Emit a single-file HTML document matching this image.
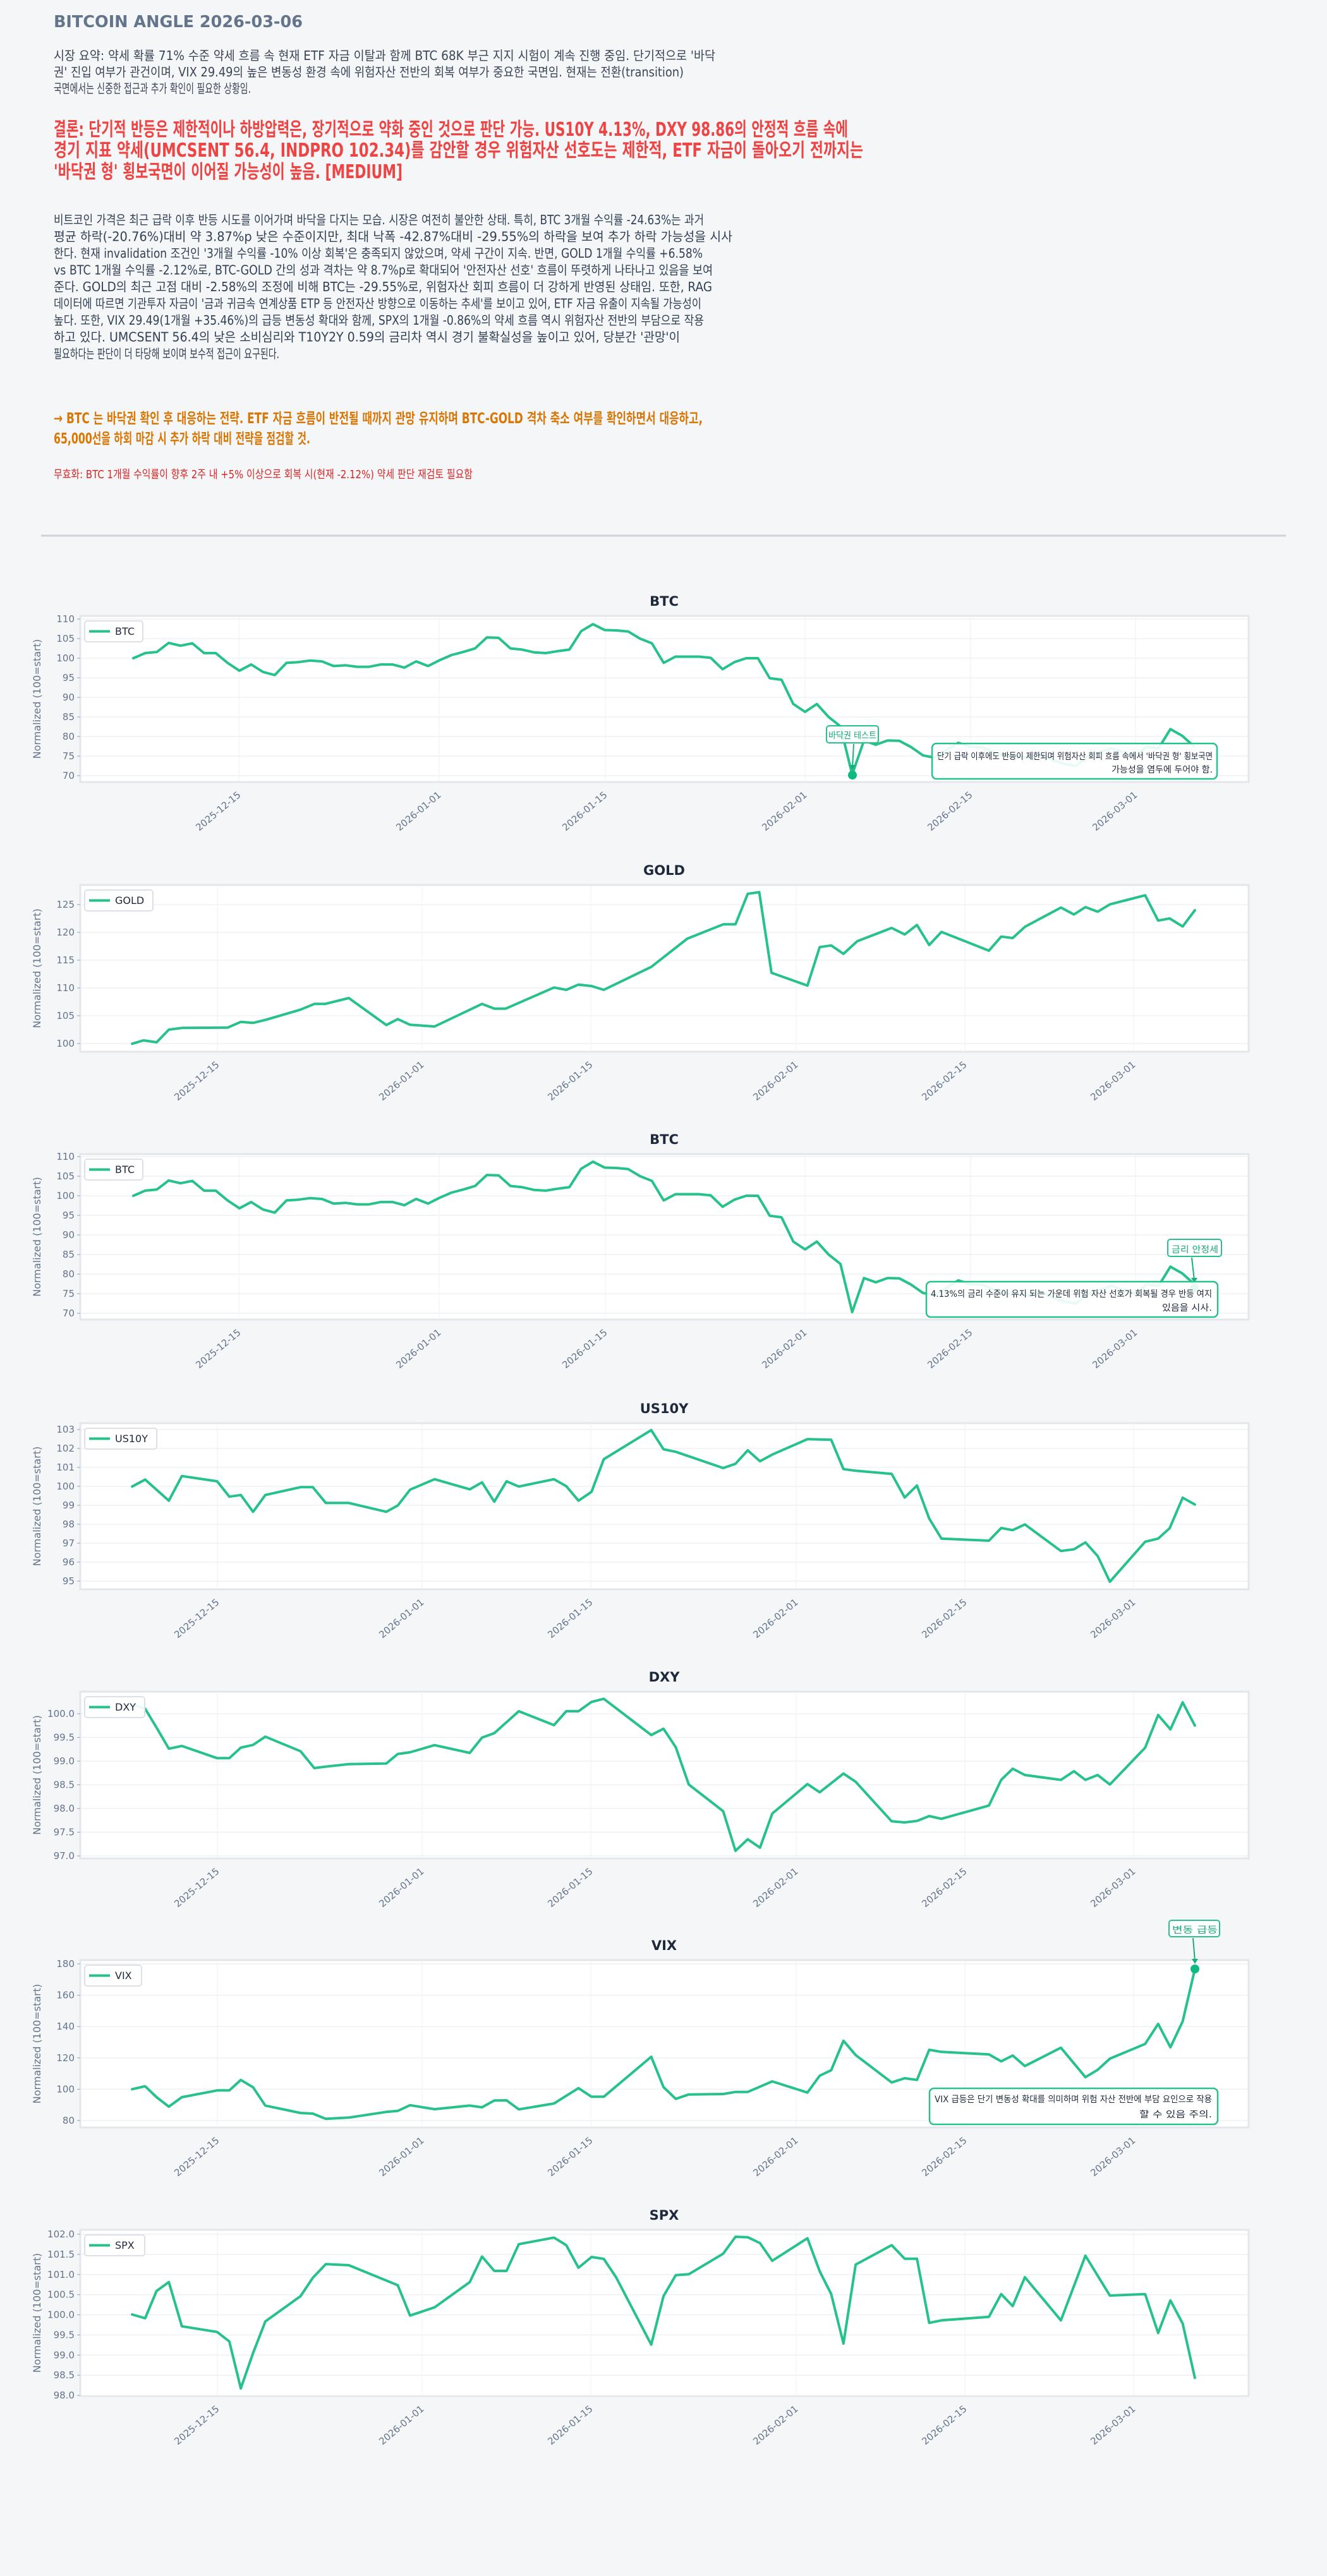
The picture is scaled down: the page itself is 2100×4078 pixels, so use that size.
<!DOCTYPE html>
<html><head><meta charset="utf-8">
<style>
html,body{margin:0;padding:0;background:#f4f6f8;}
svg{display:block;}
text{font-family:"DejaVu Sans","Liberation Sans","Noto Sans CJK KR",sans-serif;}
</style></head>
<body>
<svg id="s" xmlns="http://www.w3.org/2000/svg" width="2100" height="4078" viewBox="0 0 2100 4078">
<rect width="2100" height="4078" fill="#f4f6f8"/>
<text x="85" y="43" font-size="26" font-weight="bold" fill="#64748b" textLength="394" lengthAdjust="spacingAndGlyphs">BITCOIN ANGLE  2026-03-06</text>
<g font-size="20" fill="#3b4556">
<text x="85" y="95" textLength="1047" lengthAdjust="spacingAndGlyphs">시장 요약: 약세 확률 71% 수준 약세 흐름 속 현재 ETF 자금 이탈과 함께 BTC 68K 부근 지지 시험이 계속 진행 중임. 단기적으로 '바닥</text>
<text x="85" y="121" textLength="997" lengthAdjust="spacingAndGlyphs">권' 진입 여부가 관건이며, VIX 29.49의 높은 변동성 환경 속에 위험자산 전반의 회복 여부가 중요한 국면임. 현재는 전환(transition)</text>
<text x="85" y="147" textLength="312" lengthAdjust="spacingAndGlyphs">국면에서는 신중한 접근과 추가 확인이 필요한 상황임.</text>
</g>
<g font-size="30" font-weight="bold" fill="#ef4444">
<text x="85" y="215" textLength="1257" lengthAdjust="spacingAndGlyphs">결론: 단기적 반등은 제한적이나 하방압력은, 장기적으로 약화 중인 것으로 판단 가능. US10Y 4.13%, DXY 98.86의 안정적 흐름 속에</text>
<text x="85" y="248" textLength="1281" lengthAdjust="spacingAndGlyphs">경기 지표 약세(UMCSENT 56.4, INDPRO 102.34)를 감안할 경우 위험자산 선호도는 제한적, ETF 자금이 돌아오기 전까지는</text>
<text x="85" y="282" textLength="552" lengthAdjust="spacingAndGlyphs">'바닥권 형' 횡보국면이 이어질 가능성이 높음.  [MEDIUM]</text>
</g>
<g font-size="20" fill="#334155">
<text x="85" y="355" textLength="1029" lengthAdjust="spacingAndGlyphs">비트코인 가격은 최근 급락 이후 반등 시도를 이어가며 바닥을 다지는 모습. 시장은 여전히 불안한 상태. 특히, BTC 3개월 수익률 -24.63%는 과거</text>
<text x="85" y="381.5" textLength="1074" lengthAdjust="spacingAndGlyphs">평균 하락(-20.76%)대비 약 3.87%p 낮은 수준이지만, 최대 낙폭 -42.87%대비 -29.55%의 하락을 보여 추가 하락 가능성을 시사</text>
<text x="85" y="408" textLength="1027" lengthAdjust="spacingAndGlyphs">한다. 현재 invalidation 조건인 '3개월 수익률 -10% 이상 회복'은 충족되지 않았으며, 약세 구간이 지속. 반면, GOLD 1개월 수익률 +6.58%</text>
<text x="85" y="434.5" textLength="1043" lengthAdjust="spacingAndGlyphs">vs BTC 1개월 수익률 -2.12%로, BTC-GOLD 간의 성과 격차는 약 8.7%p로 확대되어 '안전자산 선호' 흐름이 뚜렷하게 나타나고 있음을 보여</text>
<text x="85" y="461" textLength="1042" lengthAdjust="spacingAndGlyphs">준다. GOLD의 최근 고점 대비 -2.58%의 조정에 비해 BTC는 -29.55%로, 위험자산 회피 흐름이 더 강하게 반영된 상태임. 또한, RAG</text>
<text x="85" y="487.5" textLength="1025" lengthAdjust="spacingAndGlyphs">데이터에 따르면 기관투자 자금이 '금과 귀금속 연계상품 ETP 등 안전자산 방향으로 이동하는 추세'를 보이고 있어, ETF 자금 유출이 지속될 가능성이</text>
<text x="85" y="514" textLength="1029" lengthAdjust="spacingAndGlyphs">높다. 또한, VIX 29.49(1개월 +35.46%)의 급등 변동성 확대와 함께, SPX의 1개월 -0.86%의 약세 흐름 역시 위험자산 전반의 부담으로 작용</text>
<text x="85" y="540.5" textLength="991" lengthAdjust="spacingAndGlyphs">하고 있다. UMCSENT 56.4의 낮은 소비심리와 T10Y2Y 0.59의 금리차 역시 경기 불확실성을 높이고 있어, 당분간 '관망'이</text>
<text x="85" y="567" textLength="357" lengthAdjust="spacingAndGlyphs">필요하다는 판단이 더 타당해 보이며 보수적 접근이 요구된다.</text>
</g>
<g font-size="23" font-weight="bold" fill="#d97706">
<text x="85" y="670" textLength="1027" lengthAdjust="spacingAndGlyphs">→ BTC 는 바닥권 확인 후 대응하는 전략. ETF 자금 흐름이 반전될 때까지 관망 유지하며 BTC-GOLD 격차 축소 여부를 확인하면서 대응하고,</text>
<text x="85" y="702" textLength="406" lengthAdjust="spacingAndGlyphs">65,000선을 하회 마감 시 추가 하락 대비 전략을 점검할 것.</text>
</g>
<text x="85" y="757" font-size="18" fill="#dc2626" textLength="663" lengthAdjust="spacingAndGlyphs">무효화: BTC 1개월 수익률이 향후 2주 내 +5% 이상으로 회복 시(현재 -2.12%) 약세 판단 재검토 필요함</text>
<line x1="65" y1="848" x2="2035" y2="848" stroke="#cbd2da" stroke-width="3"/>
<g id="charts"></g>
</svg>
<script>
(function(){
var NS="http://www.w3.org/2000/svg";
var G=document.getElementById("charts");
var GREEN="#26c28a";
function el(tag,attrs,txt,parent){var e=document.createElementNS(NS,tag);for(var k in attrs)e.setAttribute(k,attrs[k]);if(txt!=null)e.textContent=txt;(parent||G).appendChild(e);return e;}
var btcV=[100,101.3,101.6,103.9,103.2,103.8,101.3,101.3,98.8,96.8,98.4,96.5,95.7,98.8,99,99.4,99.2,98,98.2,97.8,97.8,98.4,98.4,97.6,99.2,98,99.5,100.8,101.6,102.5,105.3,105.2,102.5,102.2,101.5,101.3,101.8,102.2,106.9,108.7,107.2,107.1,106.8,105,103.8,98.8,
100.4,100.4,100.4,100.1,97.2,99,100,100,94.9,94.5,88.3,86.3,88.3,85,82.6,70.3,79,77.9,79,78.9,77.3,75.2,74.6,76.5,78.4,77.4,77.3,76,75,75,74.5,75.5,74,73,72.5,75,76,77,76,75,77.4,77,81.9,80.2,77.5];
function btcPts(y110){var p=[];for(var i=0;i<btcV.length;i++){p.push([211+i*18.65,y110+(110-btcV[i])*6.2]);}return p;}
function zPts(arr,off){var p=[];for(var i=0;i<arr.length;i+=2){p.push([100+arr[i]*1900/1568,off+arr[i+1]/3]);}return p;}
var gold=[90,817,105,801,122,810,138,750,155,742,215,740,232,713,248,718,265,703,310,655,328,628,342,628,373,600,422,728,437,700,453,727,485,735,547,628,563,650,578,650,641,550,657,561,673,536,690,543,706,561,768,452,815,318,862,250,878,250,894,105,909,97,925,480,972,541,988,358,1003,350,1019,390,1037,330,1082,267,1099,298,1115,253,1131,348,1147,286,1209,375,1225,308,1240,315,1256,262,1303,170,1320,203,1335,168,1351,190,1367,155,1413,112,1430,232,1445,222,1462,260,1478,183];
var us=[90,370,107,337,138,437,155,320,201,345,217,418,232,410,248,490,264,410,310,373,326,373,343,448,373,448,422,490,437,460,453,385,485,335,531,383,547,350,563,442,579,345,595,370,641,335,657,368,673,437,690,395,706,240,768,102,784,193,800,205,862,282,878,262,894,198,910,250,926,218,972,145,1003,148,1019,287,1035,295,1082,310,1099,422,1115,365,1131,522,1147,617,1209,627,1225,567,1240,577,1256,550,1303,676,1320,668,1335,635,1351,700,1367,822,1413,632,1430,617,1445,568,1462,423,1478,455];
var dxy=[90,128,107,150,122,240,138,340,155,327,201,385,217,385,232,335,248,322,264,283,310,352,328,432,343,425,373,413,422,410,437,365,453,357,485,323,531,360,547,287,563,266,595,162,641,228,657,162,673,162,690,118,706,103,768,275,784,245,800,333,817,510,862,637,878,825,894,770,910,810,926,648,972,508,988,547,1019,458,1035,497,1082,685,1099,690,1115,683,1131,660,1147,673,1209,610,1225,488,1240,435,1256,465,1303,488,1320,447,1335,488,1351,465,1367,510,1413,335,1430,180,1446,248,1462,120,1478,230];
var vix=[90,802,107,788,122,840,138,885,155,840,201,808,217,808,232,758,248,793,264,880,310,915,326,918,343,943,373,937,422,910,437,905,453,878,485,897,531,880,547,888,563,856,579,855,595,898,641,870,673,797,690,838,706,838,768,648,784,792,800,848,817,827,862,825,878,815,894,815,926,765,972,818,988,738,1003,712,1019,572,1035,640,1082,770,1099,750,1115,758,1131,615,1147,625,1209,637,1225,670,1240,642,1256,692,1303,605,1335,745,1351,710,1367,657,1413,587,1430,492,1446,603,1462,480,1478,232];
var spx=[90,477,107,495,122,365,138,323,155,533,201,560,217,605,232,828,248,660,264,510,310,390,326,303,343,238,373,243,437,338,453,482,485,443,531,323,547,202,563,270,579,270,595,143,641,112,657,148,673,255,690,204,706,213,722,300,768,620,784,390,800,290,817,286,862,188,878,108,894,110,910,138,926,222,972,115,988,272,1003,380,1019,615,1035,240,1082,148,1099,212,1115,212,1131,517,1147,505,1209,488,1225,380,1240,437,1256,300,1303,505,1335,198,1367,387,1413,380,1430,565,1446,410,1462,520,1478,778];
var btcX=[[378,"2025-12-15"],[695,"2026-01-01"],[958,"2026-01-15"],[1274,"2026-02-01"],[1536,"2026-02-15"],[1797,"2026-03-01"]];
var othX=[[344,"2025-12-15"],[668,"2026-01-01"],[935,"2026-01-15"],[1260,"2026-02-01"],[1527,"2026-02-15"],[1794,"2026-03-01"]];
var charts=[
{t:"BTC",top:975,bot:1238,v0:110,y0:980,v1:70,y1:1228,st:5,d:0,xs:btcX,pts:btcPts(980),lw:92},
{t:"GOLD",top:1401,bot:1665,v0:125,y0:1432,v1:100,y1:1652,st:5,d:0,xs:othX,pts:zPts(gold,1380),lw:108},
{t:"BTC",top:1827,bot:2089,v0:110,y0:1831,v1:70,y1:2079,st:5,d:0,xs:btcX,pts:btcPts(1831),lw:92},
{t:"US10Y",top:2253,bot:2516,v0:103,y0:2263,v1:95,y1:2503,st:1,d:0,xs:othX,pts:zPts(us,2230),lw:114},
{t:"DXY",top:2678,bot:2942,v0:100,y0:2713,v1:97,y1:2938,st:0.5,d:1,xs:othX,pts:zPts(dxy,2655),lw:95},
{t:"VIX",top:3103,bot:3368,v0:180,y0:3109,v1:80,y1:3357,st:20,d:0,xs:othX,pts:zPts(vix,3040),lw:90},
{t:"SPX",top:3530,bot:3793,v0:102,y0:3537,v1:98,y1:3792,st:0.5,d:1,xs:othX,pts:zPts(spx,3505),lw:95}
];
charts.forEach(function(c){
  var L=127,R=1976;
  el("rect",{x:L,y:c.top,width:R-L,height:c.bot-c.top,fill:"#fff",stroke:"#e3e6eb","stroke-width":3});
  var n=Math.round((c.v0-c.v1)/c.st);
  for(var k=0;k<=n;k++){
    var v=c.v0-k*c.st,y=c.y0+(c.y1-c.y0)*k/n;
    el("line",{x1:L+2,x2:R-2,y1:y,y2:y,stroke:"#eef0f3","stroke-width":1.5});
    el("line",{x1:L-5,x2:L,y1:y,y2:y,stroke:"#94a3b8","stroke-width":1});
    el("text",{x:118,y:y+5,"text-anchor":"end","font-size":15,fill:"#64748b"},v.toFixed(c.d));
  }
  c.xs.forEach(function(a){
    el("line",{x1:a[0],x2:a[0],y1:c.top+2,y2:c.bot-2,stroke:"#f0f1f4","stroke-width":1});
    el("text",{"text-anchor":"end","font-size":15,fill:"#64748b",transform:"translate("+(a[0]+4)+","+(c.bot+22)+") rotate(-40)"},a[1]);
  });
  el("text",{x:1051,y:c.top-16,"text-anchor":"middle","font-size":21,"font-weight":"bold",fill:"#1e293b"},c.t);
  var cy=(c.top+c.bot)/2;
  el("text",{"text-anchor":"middle","font-size":16,fill:"#64748b",transform:"translate(64,"+cy+") rotate(-90)"},"Normalized (100=start)");
  el("polyline",{points:c.pts.map(function(p){return p[0].toFixed(1)+","+p[1].toFixed(1);}).join(" "),fill:"none",stroke:GREEN,"stroke-width":4,"stroke-linejoin":"round","stroke-linecap":"round"});
  el("rect",{x:134,y:c.top+8,width:c.lw,height:33,rx:4,fill:"#fff","fill-opacity":0.9,stroke:"#dde1e7","stroke-width":2});
  el("line",{x1:141,x2:174,y1:c.top+24.5,y2:c.top+24.5,stroke:GREEN,"stroke-width":4});
  el("text",{x:182,y:c.top+30,"font-size":16,fill:"#1e293b"},c.t);
});
function annot(lb,ptx,pty,bx,l1,l2,l1x,l2x,b1,b2){
  el("rect",{x:lb[0],y:lb[1],width:lb[2]-lb[0],height:lb[3]-lb[1],rx:4,fill:"#fff","fill-opacity":0.9,stroke:GREEN,"stroke-width":2});
  el("text",{x:lb[4],y:lb[5],"font-size":14,fill:"#16a878",textLength:lb[6],lengthAdjust:"spacingAndGlyphs"},lb[7]);
  var ax=lb[8];
  el("line",{x1:ax,y1:lb[3]+2,x2:ptx,y2:pty-12,stroke:"#16b07f","stroke-width":2});
  el("polygon",{points:(ptx-5)+","+(pty-16)+" "+(ptx+5)+","+(pty-16)+" "+ptx+","+(pty-8),fill:"#16b07f"});
  el("circle",{cx:ptx,cy:pty,r:7,fill:"#10b981"});
  el("rect",{x:bx[0],y:bx[1],width:bx[2]-bx[0],height:bx[3]-bx[1],rx:7,fill:"#fff","fill-opacity":0.9,stroke:GREEN,"stroke-width":2.5});
  el("text",{x:l1x[0],y:b1,"font-size":14,fill:"#1e293b",textLength:l1x[1]-l1x[0],lengthAdjust:"spacingAndGlyphs"},l1);
  el("text",{x:l2x[0],y:b2,"font-size":14,fill:"#1e293b",textLength:l2x[1]-l2x[0],lengthAdjust:"spacingAndGlyphs"},l2);
}
annot([1308,1149,1390,1176,1311,1169,76,"바닥권 테스트",1351],1349,1227,[1475,1177,1926,1233],
 "단기 급락 이후에도 반등이 제한되며 위험자산 회피 흐름 속에서 '바닥권 형' 횡보국면","가능성을 염두에 두어야 함.",[1483,1919],[1759,1919],1202,1223);
annot([1848,1962,1933,1989,1854,1983,74,"금리 안정세",1886],1890,2039,[1466,2029,1927,2085],
 "4.13%의 금리 수준이 유지 되는 가운데 위험 자산 선호가 회복될 경우 반등 여지","있음을 시사.",[1473,1918],[1839,1918],2053,2075);
annot([1850,3040,1930,3066,1855,3060,72,"변동 급등",1888],1891,3117,[1471,3306,1927,3363],
 "VIX 급등은 단기 변동성 확대를 의미하며 위험 자산 전반에 부담 요인으로 작용","할 수 있음 주의.",[1479,1918],[1803,1918],3328,3352);
})();
</script>
</body></html>
